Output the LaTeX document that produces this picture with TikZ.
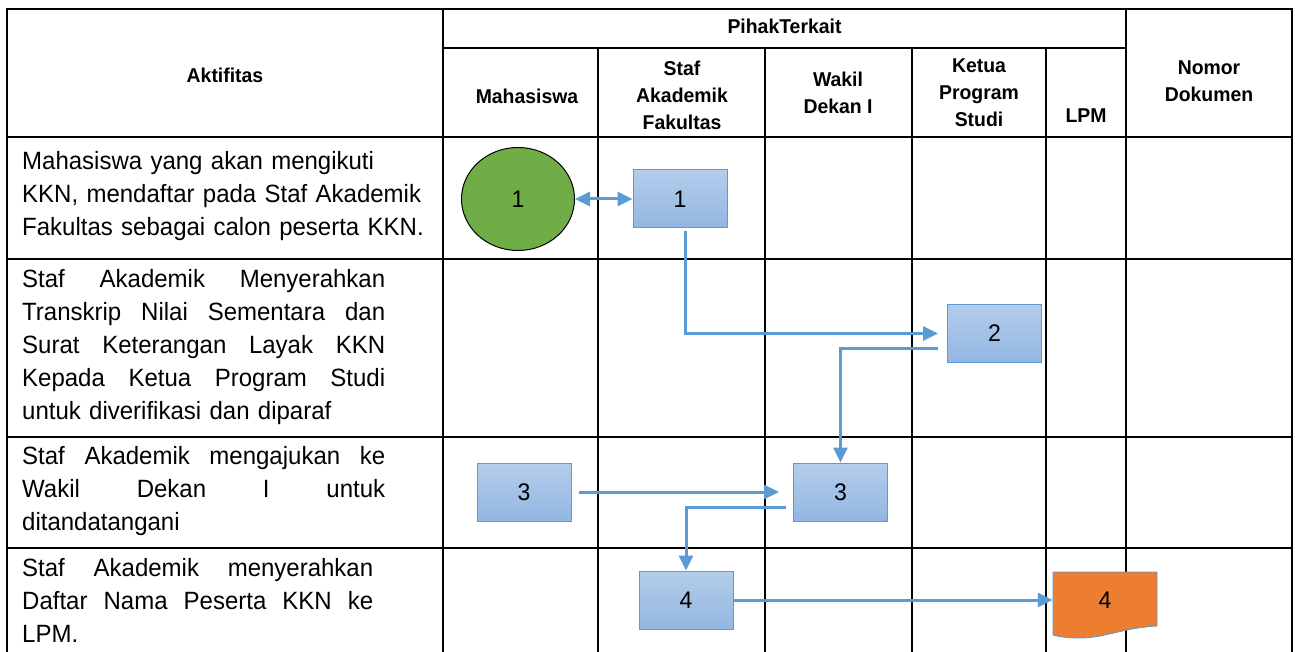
\documentclass[tikz,border=0pt]{standalone}
\usepackage{fontspec}
\setmainfont{Liberation Sans}
\newfontfamily\bodyfont[FakeStretch=0.96]{Liberation Sans}
\newfontfamily\headfont[FakeStretch=0.97]{Liberation Sans}
\usetikzlibrary{shapes, arrows.meta, positioning, shapes.geometric, calc}

\definecolor{flowblue}{HTML}{5B9BD5}
\definecolor{boxtop}{HTML}{B4CDEB}
\definecolor{boxbottom}{HTML}{92B6E2}
\definecolor{docorange}{HTML}{ED7D31}
\definecolor{startgreen}{HTML}{70AD47}

\newcommand{\jline}[2]{{\spaceskip=0pt\xspaceskip=0pt\makebox[#1][s]{#2}}}

\begin{document}
\begin{tikzpicture}[x=1pt, y=-1pt]
    \tikzstyle{tableline} = [line width=2.4pt, black]
    \tikzstyle{head} = [font=\headfont\bfseries\fontsize{20}{27}\selectfont, align=center, inner sep=0]
    \tikzstyle{activity} = [font=\bodyfont\fontsize{25}{33}\selectfont, align=left, text width=430pt, anchor=north west, inner sep=0]
    \tikzstyle{procbox} = [draw=flowblue, line width=1pt, top color=boxtop, bottom color=boxbottom, minimum width=94pt, minimum height=58pt, font=\bodyfont\fontsize{24}{28}\selectfont]
    \tikzstyle{flow} = [flowblue, line width=3pt, -{Triangle[length=15pt,width=14pt]}]

    \useasboundingbox (0,0) rectangle (1295,652);

    % table (bottom edge cut off)
    \draw[tableline] (7,653) -- (7,9) -- (1292,9) -- (1292,653);
    \draw[tableline] (443,48) -- (1126,48);
    \foreach \y in {137,259,437,548}
        \draw[tableline] (7,\y) -- (1292,\y);
    \draw[tableline] (443,9) -- (443,653);
    \draw[tableline] (1126,9) -- (1126,653);
    \foreach \x in {598,765,912,1046}
        \draw[tableline] (\x,48) -- (\x,653);

    % header
    \node[head] (hakt) at (225,75) {Aktifitas};
    \node[head] (hpihak) at (784.5,26) {PihakTerkait};
    \node[head] (hmhs) at (527,96) {Mahasiswa};
    \node[head] (hstaf) at (682,95) {Staf\\Akademik\\Fakultas};
    \node[head] (hwakil) at (838,93) {Wakil\\Dekan I};
    \node[head] (hketua) at (979,93) {Ketua\\Program\\Studi};
    \node[head] (hlpm) at (1086,116) {LPM};
    \node[head] (hnomor) at (1209,81) {Nomor\\Dokumen};

    % activities
    \node[activity] (act1) at (22,151) {Mahasiswa yang akan mengikuti\\KKN, mendaftar pada Staf Akademik\\Fakultas sebagai calon peserta KKN.};
    \node[activity] (act2) at (22,269) {\jline{363pt}{Staf Akademik Menyerahkan}\\\jline{363pt}{Transkrip Nilai Sementara dan}\\\jline{363pt}{Surat Keterangan Layak KKN}\\\jline{363pt}{Kepada Ketua Program Studi}\\untuk diverifikasi dan diparaf};
    \node[activity] (act3) at (22,446) {\jline{363pt}{Staf Akademik mengajukan ke}\\\jline{363pt}{Wakil Dekan I untuk}\\ditandatangani};
    \node[activity] (act4) at (22,558) {\jline{351pt}{Staf Akademik menyerahkan}\\\jline{351pt}{Daftar Nama Peserta KKN ke}\\LPM.};

    % flow
    \node[ellipse, draw=black, line width=1pt, fill=startgreen, minimum width=113pt, minimum height=103pt, font=\bodyfont\fontsize{24}{28}\selectfont] (c1) at (518,199) {1};
    \node[procbox] (b1) at (680,199) {1};
    \node[procbox] (b2) at (994.5,333.5) {2};
    \node[procbox] (b3a) at (524,492) {3};
    \node[procbox] (b3b) at (840.5,492) {3};
    \node[procbox] (b4) at (686,600) {4};

    \coordinate (docc) at (1105,600);
    \filldraw[fill=docorange, draw=flowblue, line width=0.8pt] ($(docc)+(-52,-28)$) -- ($(docc)+(52,-28)$) -- ($(docc)+(52,26)$) .. controls ($(docc)+(17,28)$) and ($(docc)+(0,38)$) .. ($(docc)+(-25,38)$) .. controls ($(docc)+(-37,38)$) and ($(docc)+(-45,37)$) .. ($(docc)+(-52,35)$) -- cycle;
    \node[font=\bodyfont\fontsize{24}{28}\selectfont, minimum width=104pt, minimum height=56pt, inner sep=0] (d4) at (docc) {4};

    \draw[flow, {Triangle[length=15pt,width=14pt]}-{Triangle[length=15pt,width=14pt]}] (c1.east) -- (b1.west);
    \draw[flow] ([xshift=5pt, yshift=-3pt]b1.south) |- ([xshift=-9pt]b2.west);
    \draw[flow] ([xshift=-9pt, yshift=-15pt]b2.west) -| (b3b.north);
    \draw[flow] ([xshift=7pt]b3a.east) -- ([xshift=-14pt]b3b.west);
    \draw[flow] ([xshift=-7pt, yshift=-15pt]b3b.west) -| (b4.north);
    \draw[flow] (b4.east) -- (d4.west);
\end{tikzpicture}
\end{document}
